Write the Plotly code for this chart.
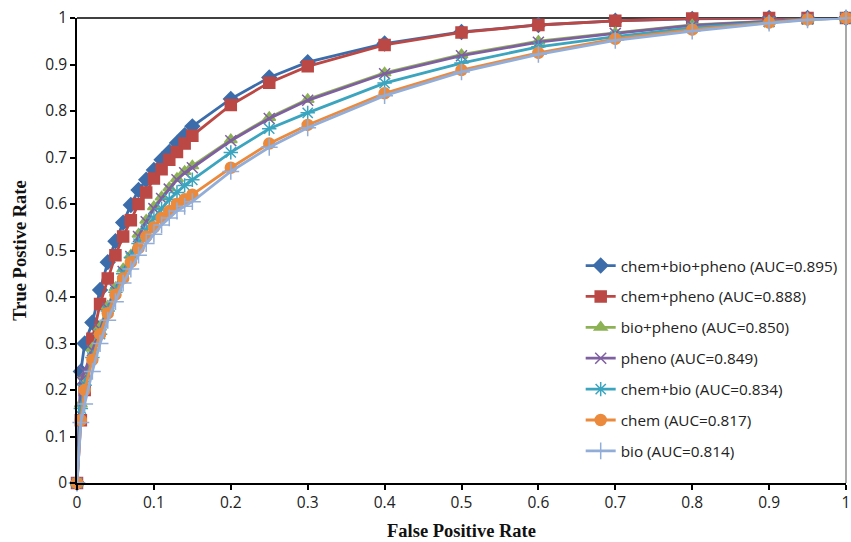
import plotly.graph_objects as go

fpr = [0, 0.005, 0.01, 0.02, 0.03, 0.04, 0.05, 0.06, 0.07, 0.08, 0.09, 0.10,
       0.11, 0.12, 0.13, 0.14, 0.15, 0.2, 0.25, 0.3, 0.4, 0.5, 0.6, 0.7,
       0.8, 0.9, 0.95, 1.0]

tpr_chem_bio_pheno = [0, 0.24, 0.30, 0.345, 0.415, 0.475, 0.52, 0.56, 0.598, 0.63,
                      0.652, 0.673, 0.695, 0.712, 0.731, 0.748, 0.767, 0.826, 0.872,
                      0.905, 0.945, 0.970, 0.985, 0.994, 0.998, 1.0, 1.0, 1.0]
tpr_chem_pheno = [0, 0.135, 0.20, 0.31, 0.385, 0.44, 0.49, 0.53, 0.565, 0.60,
                  0.625, 0.655, 0.675, 0.695, 0.712, 0.73, 0.747, 0.813, 0.861,
                  0.896, 0.942, 0.969, 0.985, 0.994, 0.999, 1.0, 1.0, 1.0]
tpr_bio_pheno = [0, 0.17, 0.23, 0.29, 0.335, 0.38, 0.42, 0.46, 0.49, 0.535,
                 0.565, 0.594, 0.615, 0.635, 0.655, 0.67, 0.682, 0.738, 0.786,
                 0.825, 0.882, 0.921, 0.950, 0.968, 0.985, 0.993, 0.998, 1.0]
tpr_pheno = [0, 0.22, 0.24, 0.285, 0.33, 0.375, 0.415, 0.455, 0.487, 0.53,
             0.562, 0.59, 0.612, 0.632, 0.652, 0.667, 0.678, 0.736, 0.784,
             0.823, 0.880, 0.919, 0.948, 0.967, 0.984, 0.993, 0.998, 1.0]
tpr_chem_bio = [0, 0.16, 0.21, 0.27, 0.32, 0.37, 0.41, 0.45, 0.485, 0.515,
                0.545, 0.57, 0.59, 0.61, 0.625, 0.64, 0.652, 0.711, 0.762,
                0.796, 0.860, 0.903, 0.938, 0.960, 0.979, 0.991, 0.997, 1.0]
tpr_chem = [0, 0.135, 0.20, 0.265, 0.32, 0.365, 0.405, 0.44, 0.475, 0.505,
            0.53, 0.55, 0.57, 0.585, 0.60, 0.61, 0.62, 0.678, 0.730,
            0.770, 0.838, 0.888, 0.925, 0.955, 0.975, 0.990, 0.997, 1.0]
tpr_bio = [0, 0.13, 0.17, 0.24, 0.30, 0.35, 0.39, 0.43, 0.46, 0.49,
           0.515, 0.535, 0.555, 0.57, 0.585, 0.595, 0.605, 0.670, 0.722,
           0.764, 0.833, 0.884, 0.922, 0.952, 0.972, 0.989, 0.996, 1.0]

names = ["chem+bio+pheno (AUC=0.895)", "chem+pheno (AUC=0.888)",
         "bio+pheno (AUC=0.850)", "pheno (AUC=0.849)", "chem+bio (AUC=0.834)",
         "chem (AUC=0.817)", "bio (AUC=0.814)"]
series = [tpr_chem_bio_pheno, tpr_chem_pheno, tpr_bio_pheno, tpr_pheno,
          tpr_chem_bio, tpr_chem, tpr_bio]
colors = ["#3C6DAA", "#BB4845", "#8DB255", "#7E5FA0", "#3BA4BE", "#EB8A3C", "#92ADD8"]
symbols = ["diamond", "square", "triangle-up", "x-thin-open", "asterisk-open",
           "circle", "cross-thin-open"]
sizes = [11, 11, 11, 11, 12, 11, 12]

xticks = [0, 0.1, 0.2, 0.3, 0.4, 0.5, 0.6, 0.7, 0.8, 0.9, 1]
xticklabels = ["0", "0.1", "0.2", "0.3", "0.4", "0.5", "0.6", "0.7", "0.8", "0.9", "1"]

fig = go.Figure()
for i, (nm, ys) in enumerate(zip(names, series)):
    fig.add_trace(go.Scatter(
        x=fpr, y=ys, name=nm, mode="lines+markers",
        legendgroup=str(i),
        line=dict(color=colors[i], width=2.8),
        marker=dict(symbol=symbols[i], size=sizes[i], color=colors[i],
                    line=dict(color=colors[i], width=1.5)),
        cliponaxis=False,
    ))

tickfont = dict(family="Open Sans", size=15.5, color="#222222")
titlefont = dict(family="Liberation Serif", size=18.5, color="#111111")

fig.update_layout(
    width=851, height=542,
    margin=dict(l=77, r=5, t=18, b=59, autoexpand=False),
    paper_bgcolor="white", plot_bgcolor="white",
    showlegend=True,
    legend=dict(x=0.655, y=0.503, xanchor="left", yanchor="top",
                font=dict(family="Open Sans", size=15.3, color="#222222"),
                tracegroupgap=8, bgcolor="rgba(255,255,255,0)",
                itemwidth=30),
    xaxis=dict(range=[0, 1], tickvals=xticks, ticktext=xticklabels,
               showgrid=False, zeroline=False, showline=True,
               linecolor="black", linewidth=1.5, ticks="outside",
               ticklen=5, tickcolor="black", tickwidth=1.5, tickfont=tickfont,
               title=dict(text="<b>False Positive Rate</b>", font=titlefont, standoff=12)),
    yaxis=dict(range=[0, 1], tickvals=xticks, ticktext=xticklabels,
               showgrid=False, zeroline=False, showline=True,
               linecolor="black", linewidth=1.5, ticks="outside",
               ticklen=5, tickcolor="black", tickwidth=1.5, tickfont=tickfont,
               title=dict(text="<b>True Postive Rate</b>", font=titlefont, standoff=14)),
    shapes=[
        dict(type="line", xref="paper", yref="paper", x0=0, x1=1, y0=1, y1=1,
             line=dict(color="black", width=1.5), layer="below"),
        dict(type="line", xref="paper", yref="paper", x0=1, x1=1, y0=0, y1=1,
             line=dict(color="#8C8C8C", width=1.5), layer="below"),
    ],
)

fig.write_html("out.html")
